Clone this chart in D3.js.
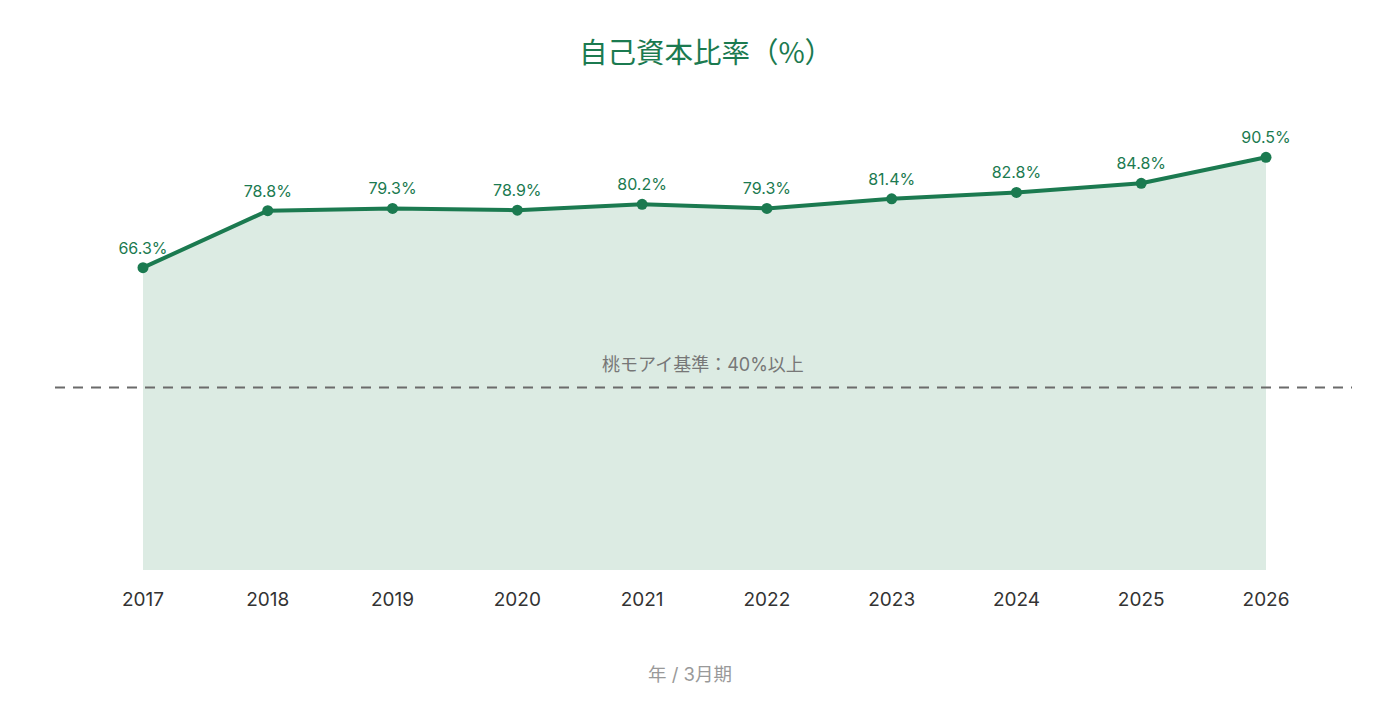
<!DOCTYPE html>
<html>
<head>
<meta charset="utf-8">
<script src="https://cdn.jsdelivr.net/npm/d3@7"></script>
<style>
	html, body {
		margin: 0;
		background: #fff;
	}
	svg {
		display: block;
		font-family: Inter, "Noto Sans CJK JP", sans-serif;
	}
</style>
</head>
<body>
<svg width="1380" height="705"></svg>
<script>
// Fiscal years (March year-end) and equity ratio values
const years = ['2017', '2018', '2019', '2020', '2021', '2022', '2023', '2024', '2025', '2026']
const ratios = [66.3, 78.8, 79.3, 78.9, 80.2, 79.3, 81.4, 82.8, 84.8, 90.5]
const threshold = 40
const titleText = '自己資本比率（%）'
const thresholdText = '桃モアイ基準：40%以上'
const xAxisText = '年 / 3月期'

const green = '#1b7a50'
const font = 'Inter, "Noto Sans CJK JP", sans-serif'
const svg = d3.select('svg')

const x = d3.scaleBand().domain(years).range([80.6, 1328.4])
const y = d3.scaleLinear().domain([0, 100]).range([570, 114])
const cx = d => x(d) + x.bandwidth() / 2

const rows = years.map((yr, i) => ({year: yr, value: ratios[i]}))

// Title (CJK font so the weight stays light)
svg.append('text')
	.attr('x', 706).attr('y', 63)
	.attr('text-anchor', 'middle')
	.attr('fill', green)
	.attr('font-size', 28.5)
	.attr('font-family', '"Noto Sans CJK JP", sans-serif')
	.text(titleText)

// Filled area under the line
const area = d3.area()
	.x(d => cx(d.year))
	.y0(y(0))
	.y1(d => y(d.value))

svg.append('path')
	.datum(rows)
	.attr('d', area)
	.attr('fill', '#dcebe3')

// Threshold line and its label
svg.append('line')
	.attr('x1', 55).attr('x2', 1352)
	.attr('y1', y(threshold)).attr('y2', y(threshold))
	.attr('stroke', '#6b6b6b')
	.attr('stroke-width', 2)
	.attr('stroke-dasharray', '10 8')

svg.append('text')
	.attr('x', 703).attr('y', y(threshold) - 17)
	.attr('text-anchor', 'middle')
	.attr('fill', '#777')
	.attr('font-size', 18)
	.text(thresholdText)

// Main line
const line = d3.line()
	.x(d => cx(d.year))
	.y(d => y(d.value))

svg.append('path')
	.datum(rows)
	.attr('d', line)
	.attr('fill', 'none')
	.attr('stroke', green)
	.attr('stroke-width', 4)
	.attr('stroke-linejoin', 'round')

svg.append('g')
	.selectAll('circle')
	.data(rows)
	.join('circle')
	.attr('cx', d => cx(d.year))
	.attr('cy', d => y(d.value))
	.attr('r', 5.5)
	.attr('fill', green)

svg.append('g')
	.selectAll('text')
	.data(rows)
	.join('text')
	.attr('x', d => cx(d.year))
	.attr('y', d => y(d.value) - 14)
	.attr('text-anchor', 'middle')
	.attr('fill', green)
	.attr('font-size', 16)
	.text(d => d.value.toFixed(1) + '%')

// X axis (labels only)
const xAxis = svg.append('g')
	.attr('transform', `translate(0,${y(0)})`)
	.call(d3.axisBottom(x).tickSize(0).tickPadding(23))

xAxis.select('.domain').remove()
xAxis.selectAll('text')
	.attr('fill', '#333')
	.attr('font-size', 19)
	.attr('font-family', font)

svg.append('text')
	.attr('x', 690).attr('y', 681)
	.attr('text-anchor', 'middle')
	.attr('fill', '#999')
	.attr('font-size', 18.5)
	.text(xAxisText)
</script>
</body>
</html>
